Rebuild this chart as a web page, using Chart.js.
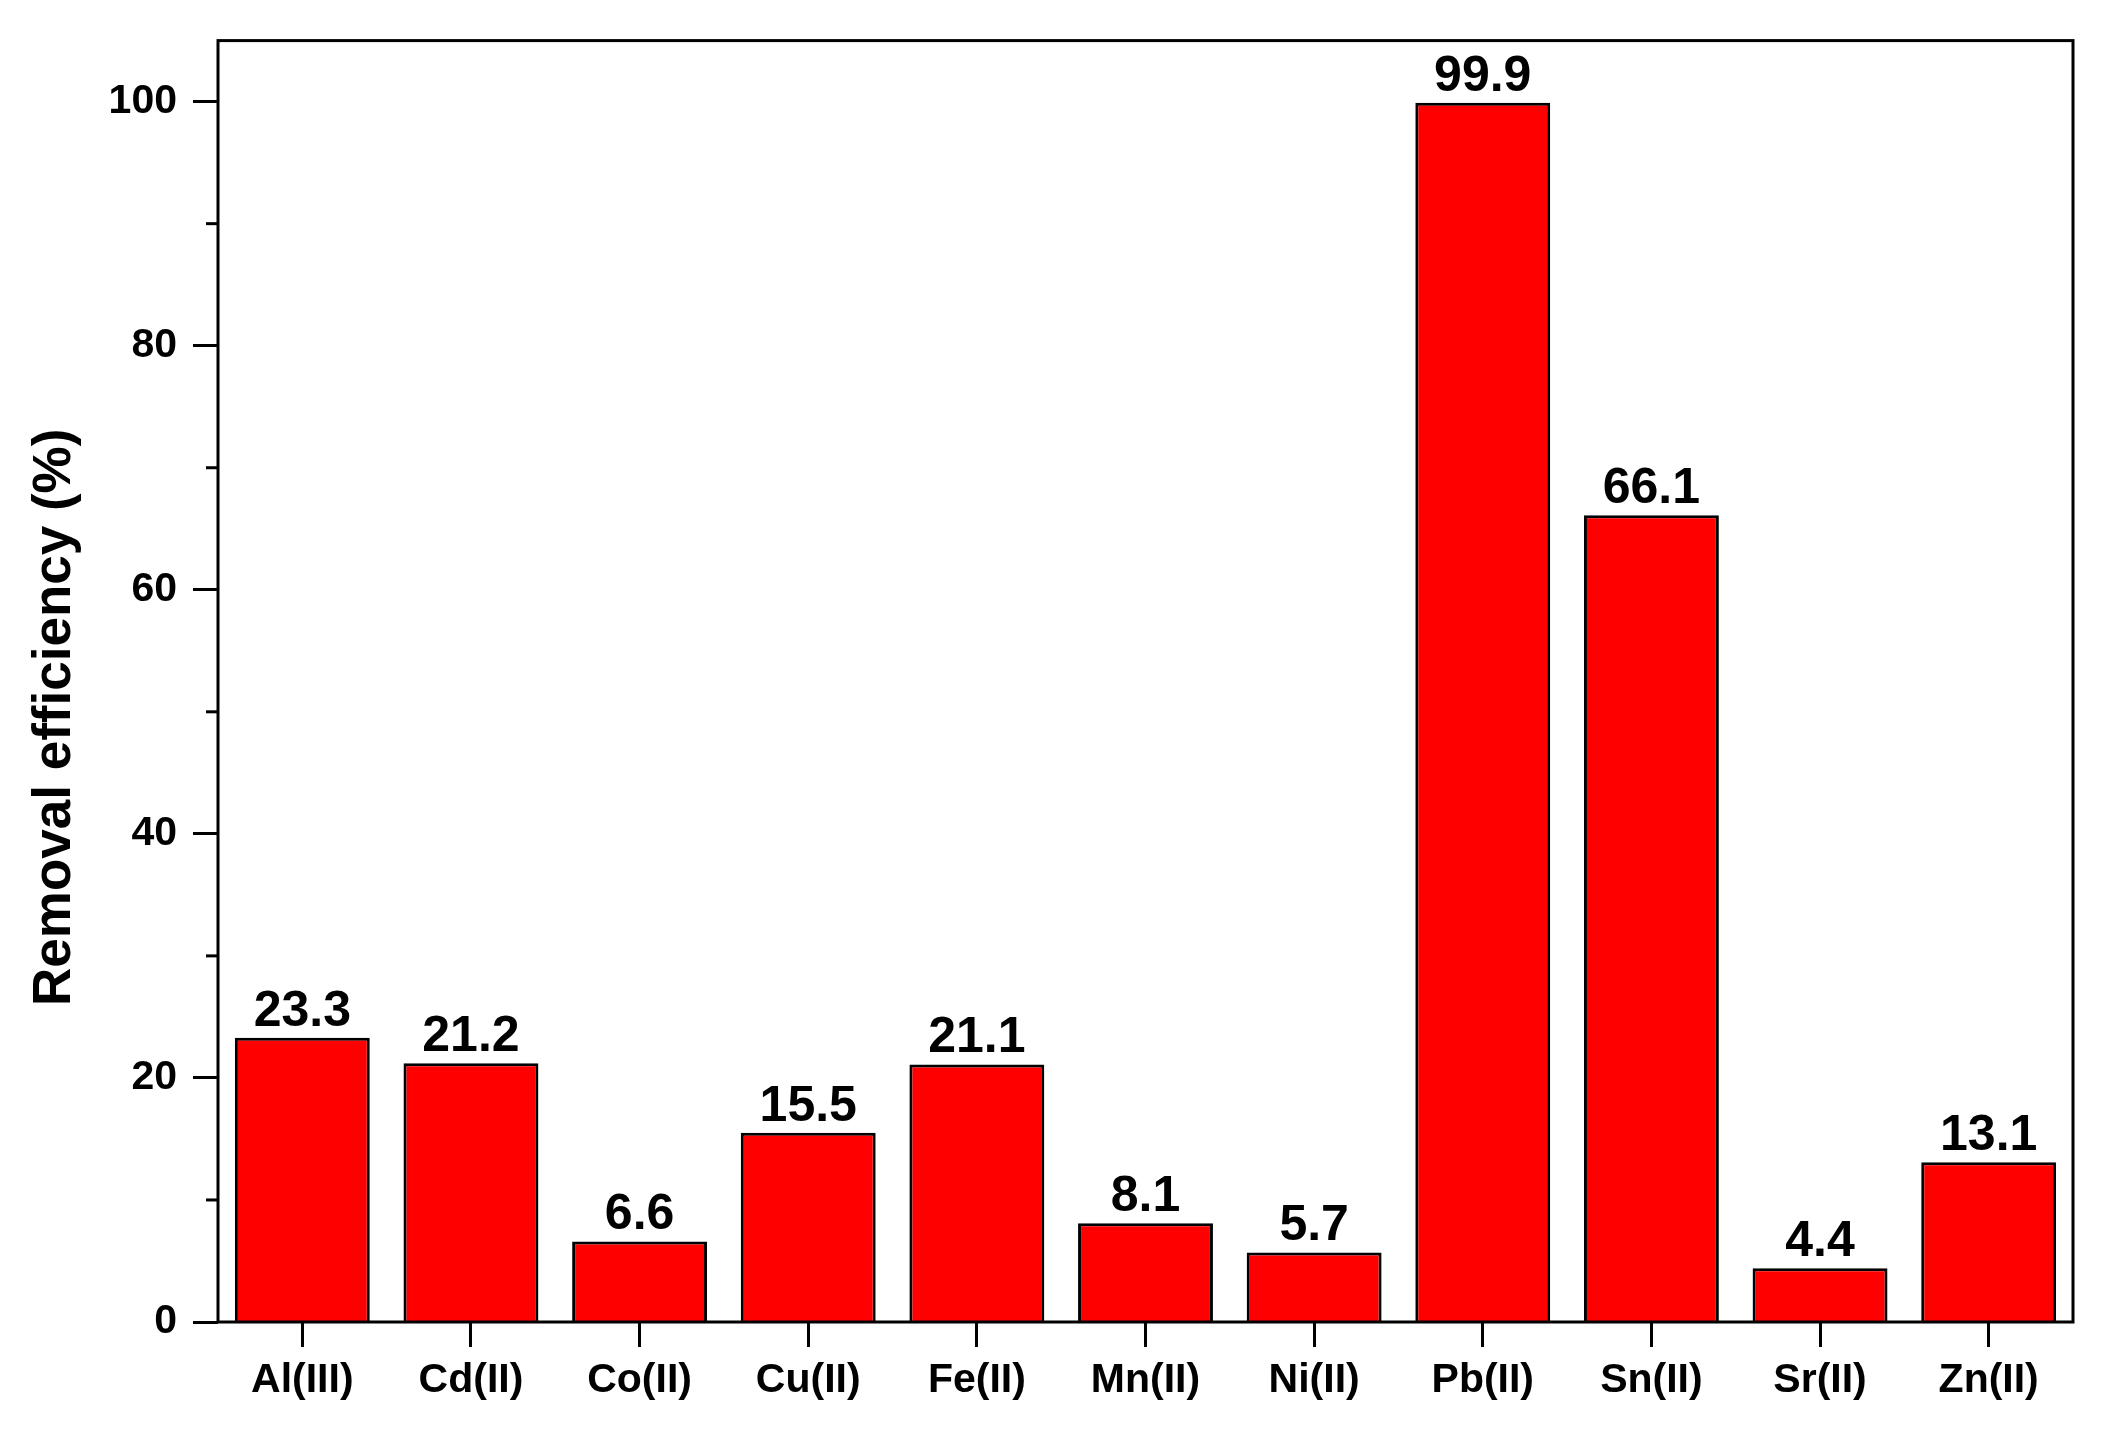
<!DOCTYPE html>
<html>
<head>
<meta charset="utf-8">
<script src="https://cdn.jsdelivr.net/npm/chart.js@4.4.0/dist/chart.umd.min.js"></script>
<style>
  html, body { margin: 0; padding: 0; background: #ffffff; }
  canvas { display: block; }
</style>
</head>
<body>
<canvas id="ctx-removal" width="2109" height="1437"></canvas>
<script>
const ions = ['Al(III)', 'Cd(II)', 'Co(II)', 'Cu(II)', 'Fe(II)', 'Mn(II)', 'Ni(II)', 'Pb(II)', 'Sn(II)', 'Sr(II)', 'Zn(II)'];
const removal = [23.3, 21.2, 6.6, 15.5, 21.1, 8.1, 5.7, 99.9, 66.1, 4.4, 13.1];
const yMajorTicks = [0, 20, 40, 60, 80, 100];
const yMinorTicks = [10, 30, 50, 70, 90];
const yTitle = 'Removal efficiency (%)';

const fontFamily = '"Liberation Sans", Arial, Helvetica, sans-serif';

// frame, minor ticks, value labels and y title
const extras = {
    id: 'extras',
    afterDatasetsDraw(chart) {
        const ctx = chart.ctx;
        const area = chart.chartArea;
        const y = chart.scales.y;

        ctx.save();
        ctx.strokeStyle = '#000';
        ctx.lineWidth = 3;
        ctx.strokeRect(area.left, area.top, area.right - area.left, area.bottom - area.top);

        yMinorTicks.forEach((v) => {
            const py = y.getPixelForValue(v);
            ctx.beginPath();
            ctx.moveTo(area.left - 12, py);
            ctx.lineTo(area.left, py);
            ctx.stroke();
        });

        ctx.fillStyle = '#000';
        ctx.font = 'bold 50px ' + fontFamily;
        ctx.textAlign = 'center';
        ctx.textBaseline = 'alphabetic';
        chart.getDatasetMeta(0).data.forEach((bar, i) => {
            ctx.fillText(removal[i].toFixed(1), bar.x, bar.y - 12);
        });

        ctx.font = 'bold 53px ' + fontFamily;
        ctx.translate(area.left - 148, (area.top + area.bottom) / 2 + 36);
        ctx.rotate(-Math.PI / 2);
        ctx.fillText(yTitle, 0, 0);
        ctx.restore();
    }
};

new Chart(document.getElementById('ctx-removal'), {
    type: 'bar',
    data: {
        labels: ions,
        datasets: [{
            data: removal,
            backgroundColor: '#ff0000',
            borderColor: '#000000',
            borderWidth: 3,
            borderSkipped: 'start',
            categoryPercentage: 1.0,
            barPercentage: 0.8
        }]
    },
    options: {
        responsive: false,
        animation: false,
        devicePixelRatio: 1,
        layout: { padding: { top: 37, right: 36, left: 0, bottom: 0 } },
        plugins: {
            legend: { display: false },
            tooltip: { enabled: false }
        },
        scales: {
            x: {
                grid: {
                    display: true,
                    drawOnChartArea: false,
                    drawTicks: true,
                    tickLength: 25,
                    tickWidth: 3,
                    tickColor: '#000',
                    offset: false
                },
                border: { display: false },
                ticks: {
                    color: '#000',
                    padding: 9,
                    maxRotation: 0,
                    autoSkip: false,
                    font: { family: fontFamily, size: 41, weight: 'bold' }
                },
                afterFit: (scale) => { scale.height = 115; }
            },
            y: {
                min: 0,
                max: 105,
                afterBuildTicks: (scale) => {
                    scale.ticks = yMajorTicks.map(v => ({ value: v }));
                },
                grid: {
                    display: true,
                    drawOnChartArea: false,
                    drawTicks: true,
                    tickLength: 25,
                    tickWidth: 3,
                    tickColor: '#000'
                },
                border: { display: false },
                ticks: {
                    color: '#000',
                    padding: 16,
                    font: { family: fontFamily, size: 41, weight: 'bold' }
                },
                afterFit: (scale) => { scale.width = 218; }
            }
        }
    },
    plugins: [extras]
});
</script>
</body>
</html>
